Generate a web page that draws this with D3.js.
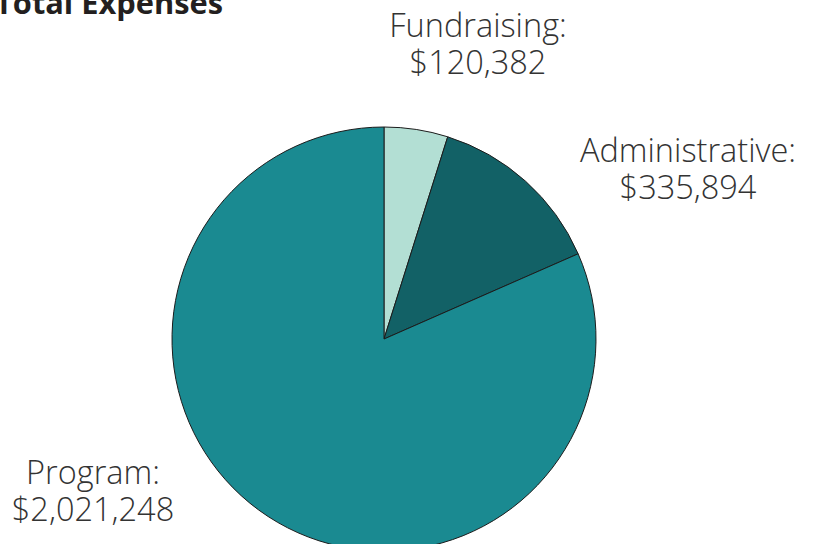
<!DOCTYPE html>
<html>
<head>
<meta charset="utf-8">
<script src="https://cdn.jsdelivr.net/npm/d3@7"></script>
<style>
  body { margin: 0; background: #fff; }
  svg { display: block; }
</style>
</head>
<body>
<div id="chart"></div>
<script>
// slice data
var categories = ["Fundraising", "Administrative", "Program"];
var amounts = [120382, 335894, 2021248];
var sliceColors = ["#b3dfd4", "#126166", "#1a8a91"];

//Width and height
var w = 814;
var h = 544;
var cx = 384, cy = 339, r = 212;

// label anchor points (centre x, first baseline)
var labelPos = {
  "Fundraising": [478, 37],
  "Administrative": [688, 162],
  "Program": [93, 484]
};

var fmt = d3.format("$,");

var svg = d3.select("#chart")
  .append("svg")
  .attr("width", w)
  .attr("height", h);

var slices = categories.map(function(c, i) {
  return { name: c, value: amounts[i], color: sliceColors[i] };
});

var pie = d3.pie()
  .value(function(d) { return d.value; })
  .sort(null);

var arc = d3.arc()
  .innerRadius(0)
  .outerRadius(r);

var g = svg.append("g")
  .attr("transform", "translate(" + cx + "," + cy + ")");

g.selectAll("path")
  .data(pie(slices))
  .enter()
  .append("path")
  .attr("d", arc)
  .attr("fill", function(d) { return d.data.color; })
  .attr("stroke", "#1c1c1c")
  .attr("stroke-width", 1);

// labels: name on one line, amount below
function addLine(cls, dy, getText) {
  svg.selectAll("text." + cls)
    .data(slices)
    .enter()
    .append("text")
    .attr("class", cls)
    .attr("text-anchor", "middle")
    .attr("font-family", "'Open Sans', sans-serif")
    .attr("font-weight", 300)
    .attr("font-size", 32.5)
    .attr("fill", "#333")
    .attr("x", function(d) { return labelPos[d.name][0]; })
    .attr("y", function(d) { return labelPos[d.name][1] + dy; })
    .text(getText);
}
addLine("lbl-name", 0, function(d) { return d.name + ":"; });
addLine("lbl-value", 37, function(d) { return fmt(d.value); });

// title (partly off the top-left edge, as in the original)
svg.append("text")
  .attr("x", -5)
  .attr("y", 14)
  .attr("font-family", "'Open Sans', sans-serif")
  .attr("font-weight", 700)
  .attr("font-size", 30.8)
  .attr("fill", "#231f20")
  .text("Total Expenses");
</script>
</body>
</html>
